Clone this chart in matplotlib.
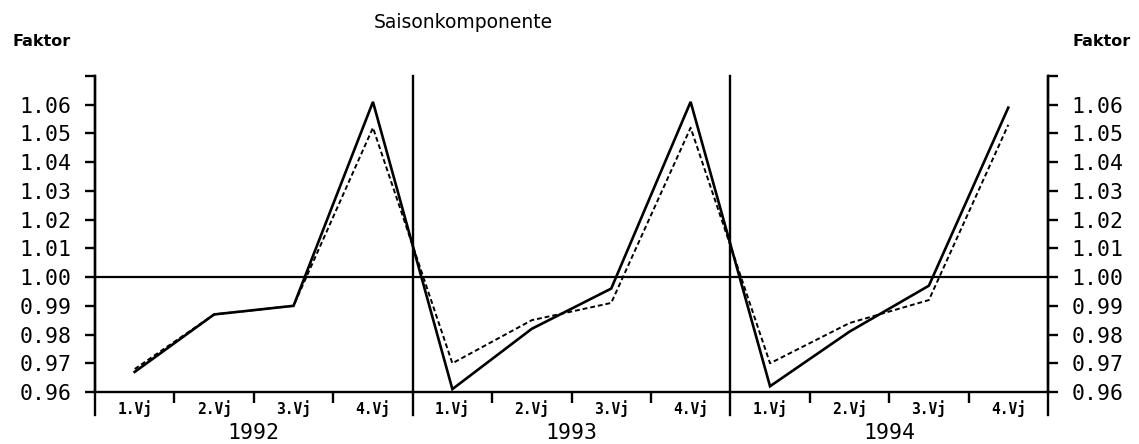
import matplotlib
matplotlib.use("Agg")
import matplotlib.pyplot as plt
import numpy as np

years = ["1992", "1993", "1994"]
quarters = ["1.Vj", "2.Vj", "3.Vj", "4.Vj"]
solid_vals = [0.967, 0.987, 0.990, 1.061,
              0.961, 0.982, 0.996, 1.061,
              0.962, 0.981, 0.997, 1.059]
dashed_vals = [0.968, 0.987, 0.990, 1.052,
               0.970, 0.985, 0.991, 1.052,
               0.970, 0.984, 0.992, 1.053]
y_ticks = [0.96, 0.97, 0.98, 0.99, 1.00, 1.01, 1.02, 1.03, 1.04, 1.05, 1.06]
title = "Saisonkomponente"
ylabel = "Faktor"

W, H = 1139, 444
fig = plt.figure(figsize=(W / 100, H / 100), dpi=100)
ax = fig.add_axes([95 / W, 1 - 392 / H, (1048 - 95) / W, (392 - 76) / H])

n = len(solid_vals)
x = np.arange(n) + 0.5
ax.set_xlim(0, n)
ax.set_ylim(0.96, 1.07)

ax.plot(x, solid_vals, color="black", lw=1.9, solid_joinstyle="miter", zorder=3)
ax.plot(x, dashed_vals, color="black", lw=1.4, linestyle=(0, (2.5, 1.5)), zorder=3)
ax.axhline(1.0, color="black", lw=1.6, zorder=2)

ax.spines["top"].set_visible(False)
for s in ["left", "right", "bottom"]:
    ax.spines[s].set_linewidth(1.7)

# vertical spines extending below the axis; year dividers
ext = -0.073
for xv in [0, 4, 8, 12]:
    ax.plot([xv, xv], [ext, 1.0], color="black", lw=1.7,
            transform=ax.get_xaxis_transform(), clip_on=False, zorder=4)

mono = "DejaVu Sans Mono"
ax.set_yticks(y_ticks + [1.07])
ax.set_yticklabels([f"{v:.2f}" for v in y_ticks] + [""], family=mono, fontsize=15.5)
ax.tick_params(axis="y", which="major", direction="out", length=7, width=1.7,
               left=True, right=True, labelleft=True, labelright=True, pad=10)

ax.set_xticks([q for q in range(1, n) if q % 4 != 0])
ax.set_xticklabels([])
ax.tick_params(axis="x", which="major", direction="out", length=8, width=1.7)
ax.set_xticks(x, minor=True)
ax.set_xticklabels([quarters[i % 4] for i in range(n)], minor=True,
                   family=mono, fontweight="bold", fontsize=10.5)
ax.tick_params(axis="x", which="minor", length=0, pad=6)

for i, yr in enumerate(years):
    ax.text(i * 4 + 2, -0.13, yr, transform=ax.get_xaxis_transform(),
            ha="center", va="center", family=mono, fontsize=15.5)

fig.text(463 / W, 1 - 22 / H, title, ha="center", va="center",
         family="DejaVu Sans", fontsize=13.5)
fig.text(12 / W, 1 - 42 / H, ylabel, ha="left", va="center",
         family="DejaVu Sans", fontweight="bold", fontsize=11.5)
fig.text(1131 / W, 1 - 42 / H, ylabel, ha="right", va="center",
         family="DejaVu Sans", fontweight="bold", fontsize=11.5)

fig.savefig("out.png", dpi=100, facecolor="white")
